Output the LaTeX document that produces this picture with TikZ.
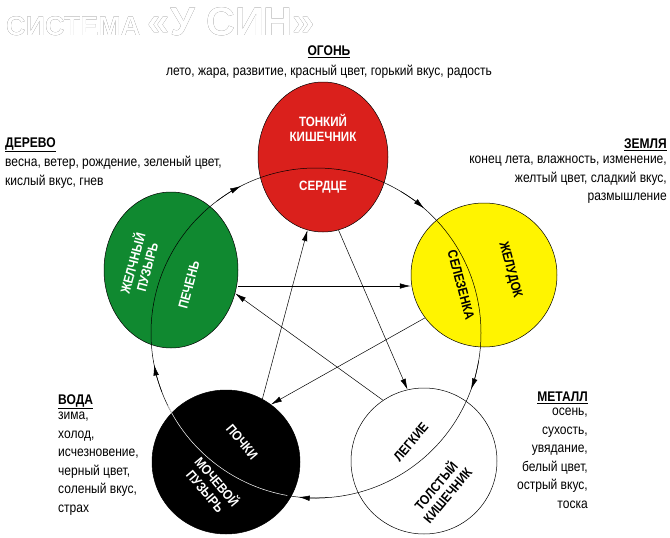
\documentclass[tikz,border=0pt]{standalone}
\usepackage{fontspec}
\setmainfont{Liberation Sans}[FakeStretch=0.86]
\newfontfamily\titlefont{Liberation Sans}[FakeStretch=1.0]
\usepackage[outline]{contour}
\contourlength{1.1pt}
\usetikzlibrary{shapes.geometric,arrows.meta}
\begin{document}
\begin{tikzpicture}[x=1pt,y=-1pt,
  organ/.style={ellipse,draw=black,line width=0.5pt,inner sep=0pt},
  lbl/.style={font=\bfseries\fontsize{13.5}{15}\selectfont,align=center,inner sep=0pt},
  txt/.style={font=\fontsize{14}{18.5}\selectfont,inner sep=0pt},
  head/.style={font=\bfseries\fontsize{14}{16}\selectfont,inner sep=0pt},
  arr/.style={-{Latex[length=11pt,width=5.5pt]},line width=0.5pt}]
\useasboundingbox (0,0) rectangle (670,538);
% organ circles
\node[organ,fill={rgb,255:red,218;green,32;blue,28},minimum width=130pt,minimum height=150pt] (r) at (323,157) {};
\node[organ,fill={rgb,255:red,16;green,137;blue,48},minimum width=134pt,minimum height=156pt] (g) at (171,270) {};
\node[organ,fill={rgb,255:red,255;green,244;blue,0},minimum width=146pt,minimum height=144pt] (y) at (484,275) {};
\node[organ,fill=black,minimum width=148pt,minimum height=144pt] (b) at (226,462) {};
\node[organ,fill=white,minimum width=146pt,minimum height=146pt] (w) at (424,461) {};
% cycle (y axis points down: screen angle = -math angle)
\coordinate (c) at (316,333);
\draw[line width=0.5pt,draw=black] (c) circle[radius=165];
\draw[line width=0.5pt,draw=white] ([shift={(100:165)}]c) arc[start angle=100,end angle=154,radius=165];
\foreach \a in {117,49,-20,-96,191}{
  \draw[arr] ([shift={(-\a-10:165)}]c) arc[start angle=-\a-10,end angle=-\a,radius=165];
}
% star
\draw[arr] (g.east |- 0,286) -- (y.west |- 0,286);
\draw[arr] (y.216) -- (b.52);
\draw[arr] (b.60) -- (r.258);
\draw[arr] (r.282) -- (w.103);
\draw[arr] (w.124) -- (g.-20);
% inner labels
\node[lbl,white] (rt) at (323,128) {ТОНКИЙ\\КИШЕЧНИК};
\node[lbl,white] (rs) at (323,187) {СЕРДЦЕ};
\node[lbl,white,rotate=75] (g1) at (139,265) {ЖЕЛЧНЫЙ\\ПУЗЫРЬ};
\node[lbl,white,rotate=75] (g2) at (189,285) {ПЕЧЕНЬ};
\node[lbl,black,rotate=-75] (y1) at (461,285) {СЕЛЕЗЕНКА};
\node[lbl,black,rotate=-75] (y2) at (510,270) {ЖЕЛУДОК};
\node[lbl,white,rotate=-50] (b1) at (242,442) {ПОЧКИ};
\node[lbl,white,rotate=-50] (b2) at (212,486) {МОЧЕВОЙ\\ПУЗЫРЬ};
\node[lbl,black,rotate=50] (w1) at (411,442) {ЛЕГКИЕ};
\node[lbl,black,rotate=50] (w2) at (441,490) {ТОЛСТЫЙ\\КИШЕЧНИК};
% outer texts
\node[head] (t1) at (329,52) {\underline{ОГОНЬ}};
\node[txt] (t1b) at (329,72) {лето, жара, развитие, красный цвет, горький вкус, радость};
\node[head,anchor=west] (t2) at (5,145) {\underline{ДЕРЕВО}};
\node[txt,anchor=north west,align=left] (t2b) at (5,156) {весна, ветер, рождение, зеленый цвет,\\кислый вкус, гнев};
\node[head,anchor=east] (t3) at (667,145) {\underline{ЗЕМЛЯ}};
\node[txt,anchor=north east,align=right] (t3b) at (667,156) {конец лета, влажность, изменение,\\желтый цвет, сладкий вкус,\\размышление};
\node[head,anchor=west] (t4) at (58,402) {\underline{ВОДА}};
\node[txt,anchor=north west,align=left] (t4b) at (58,412) {зима,\\холод,\\исчезновение,\\черный цвет,\\соленый вкус,\\страх};
\node[head,anchor=east] (t5) at (588,398) {\underline{МЕТАЛЛ}};
\node[txt,anchor=north east,align=right] (t5b) at (588,408) {осень,\\сухость,\\увядание,\\белый цвет,\\острый вкус,\\тоска};
% title
\node[anchor=west,inner sep=0pt,font=\titlefont\bfseries] (tt) at (6,22) {\contour{gray!55!black}{\textcolor{white}{\fontsize{27}{29}\selectfont СИСТЕМА \fontsize{40}{42}\selectfont «У СИН»}}};
\end{tikzpicture}
\end{document}
